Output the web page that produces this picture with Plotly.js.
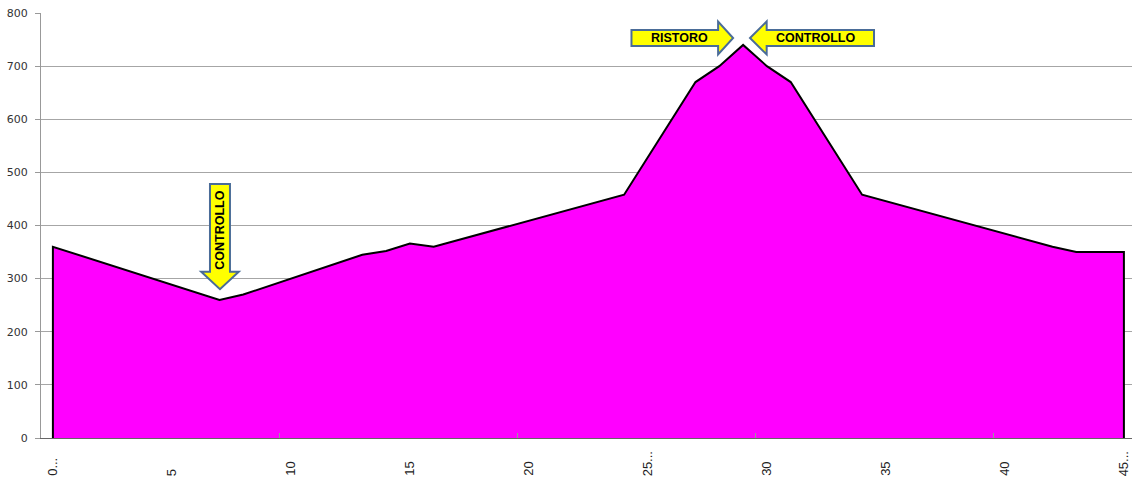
<!DOCTYPE html>
<html>
<head>
<meta charset="utf-8">
<script src="https://cdn.plot.ly/plotly-3.0.1.min.js"></script>
<style>html,body{margin:0;padding:0;background:#fff;}#chart{width:1132px;height:483px;}</style>
</head>
<body>
<div id="chart"></div>
<script>
// Data (km vs elevation in m)
const km        = [0,   7,   8,   13,  14,  15,  16,  24,  27,  28,  29,  30,  31,  34,  42,  43,  45];
const elevation = [360, 260, 270, 345, 352, 366, 360, 458, 670, 700, 740, 700, 670, 458, 360, 350, 350];
const xTickPos    = [0, 5, 10, 15, 20, 25, 30, 35, 40, 45];
const xTickLabels = ['0...', '5', '10', '15', '20', '25...', '30', '35', '40', '45...'];
const yTicks      = [0, 100, 200, 300, 400, 500, 600, 700, 800];
const notes       = ['CONTROLLO', 'RISTORO', 'CONTROLLO'];

// closed area polygon down to zero (as an Excel area chart outline)
const polyX = [km[0]].concat(km, [km[km.length - 1]]);
const polyY = [0].concat(elevation, [0]);

const trace = {
  x: polyX, y: polyY, type: 'scatter', mode: 'lines',
  fill: 'toself', fillcolor: '#FF00FF',
  line: {color: '#000000', width: 2},
  hoverinfo: 'skip', showlegend: false
};

const arrowStyle = {fillcolor: '#FFFF00', line: {color: '#4A6C98', width: 2}, xref: 'x', yref: 'y', type: 'path', layer: 'above'};

const shapes = [
  Object.assign({path: 'M 6.60,478 L 7.44,478 L 7.44,313 L 7.81,313 L 7.02,280 L 6.23,313 L 6.60,313 Z'}, arrowStyle),
  Object.assign({path: 'M 24.31,768 L 27.95,768 L 27.95,784 L 28.58,753 L 27.95,722 L 27.95,738 L 24.31,738 Z'}, arrowStyle),
  Object.assign({path: 'M 34.50,768 L 29.99,768 L 29.99,784 L 29.29,753 L 29.99,722 L 29.99,738 L 34.50,738 Z'}, arrowStyle)
];

const noteFont = {family: 'Liberation Sans, Arial, sans-serif', size: 12.5, color: '#000'};
const annotations = [
  {x: 7.02, y: 392, xref: 'x', yref: 'y', text: '<b>' + notes[0] + '</b>', textangle: -90, showarrow: false, font: noteFont},
  {x: 26.34, y: 753, xref: 'x', yref: 'y', text: '<b>' + notes[1] + '</b>', showarrow: false, font: noteFont},
  {x: 32.04, y: 753, xref: 'x', yref: 'y', text: '<b>' + notes[2] + '</b>', showarrow: false, font: noteFont}
];
xTickPos.forEach(function (p, i) {
  annotations.push({
    x: p, xref: 'x', y: -0.094, yref: 'paper', yanchor: 'bottom', xanchor: 'center',
    text: xTickLabels[i], textangle: -90, showarrow: false,
    font: {family: 'Liberation Sans, Arial, sans-serif', size: 13, color: '#222'}
  });
});

const layout = {
  width: 1132, height: 483,
  margin: {l: 41, r: 0, t: 13, b: 45, pad: 0},
  paper_bgcolor: '#fff', plot_bgcolor: '#fff',
  showlegend: false,
  xaxis: {
    type: 'linear', range: [-0.5, 45.34], fixedrange: true,
    tickmode: 'array', tickvals: [9.5, 19.5, 29.5, 39.5], ticks: 'inside', ticklen: 5, tickcolor: '#999',
    showticklabels: false, showgrid: false, zeroline: false,
    showline: true, linecolor: '#666', linewidth: 1
  },
  yaxis: {
    range: [0, 800], fixedrange: true,
    tickmode: 'array', tickvals: yTicks,
    ticks: 'outside', ticklen: 5, tickcolor: '#999', ticklabelstandoff: 5,
    tickfont: {family: 'DejaVu Sans, Verdana, sans-serif', size: 11, color: '#333'},
    showgrid: true, gridcolor: '#a6a6a6', gridwidth: 1, zeroline: false,
    showline: true, linecolor: '#999', linewidth: 1
  },
  shapes: shapes,
  annotations: annotations
};

Plotly.newPlot('chart', [trace], layout, {displayModeBar: false, staticPlot: true});
</script>
</body>
</html>
